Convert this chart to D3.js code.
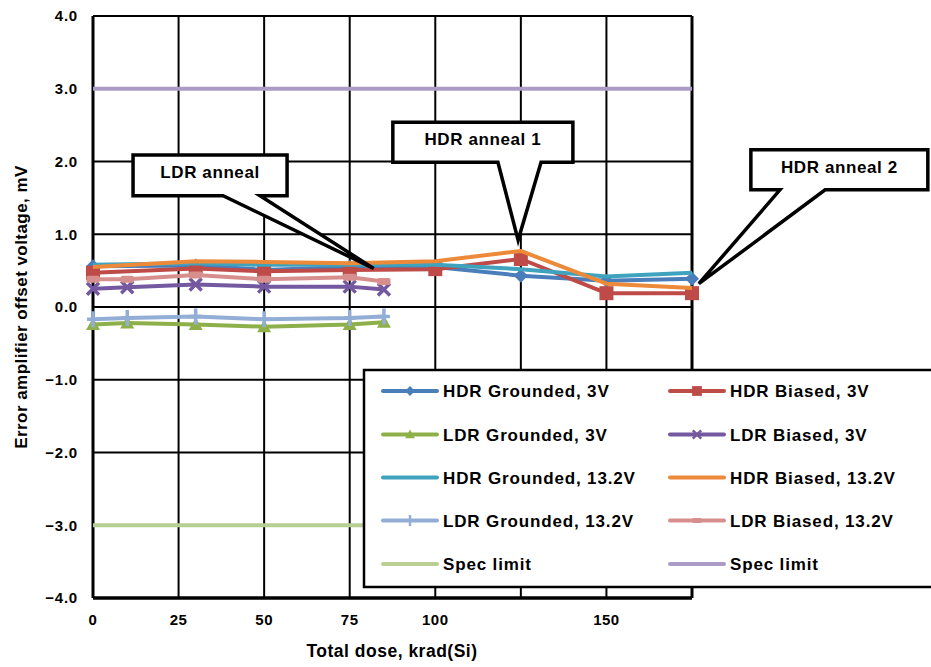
<!DOCTYPE html>
<html>
<head>
<meta charset="utf-8">
<script src="https://cdn.jsdelivr.net/npm/d3@7"></script>
<style>
  html, body { margin: 0; padding: 0; background: #fff; }
  svg text { font-family: "Liberation Sans", Arial, sans-serif; font-weight: bold; fill: #000; }
</style>
</head>
<body>
<svg id="chart" width="931" height="667"></svg>
<script>
// Dose steps (krad(Si)) for the two irradiation sequences
const ldrDose = [0, 10, 30, 50, 75, 85];
const hdrDose = [0, 30, 50, 75, 100, 125, 150, 175];

// Offset voltage readings, mV
const hdrGrounded3V   = [0.56, 0.57, 0.51, 0.55, 0.55, 0.43, 0.36, 0.39];
const hdrBiased3V     = [0.47, 0.53, 0.49, 0.51, 0.52, 0.66, 0.19, 0.19];
const ldrGrounded3V   = [-0.24, -0.22, -0.24, -0.27, -0.24, -0.21];
const ldrBiased3V     = [0.25, 0.27, 0.31, 0.28, 0.28, 0.24];
const hdrGrounded13V  = [0.58, 0.60, 0.58, 0.58, 0.58, 0.52, 0.42, 0.47];
const hdrBiased13V    = [0.55, 0.63, 0.62, 0.60, 0.63, 0.77, 0.32, 0.26];
const ldrGrounded13V  = [-0.17, -0.15, -0.13, -0.17, -0.15, -0.13];
const ldrBiased13V    = [0.38, 0.38, 0.44, 0.38, 0.41, 0.35];
const specLimitLow    = [-3.0, -3.0];
const specLimitHigh   = [3.0, 3.0];
const specDose        = [0, 175];

// Axis ticks
const xTickLabels = [0, 25, 50, 75, 100, 150];
const xGrid = [0, 25, 50, 75, 100, 125, 150, 175];
const yTicks = [-4, -3, -2, -1, 0, 1, 2, 3, 4];

// Series table: name, doses, values, colour, marker
const series = [
  { name: "HDR Grounded, 3V",    x: hdrDose,  y: hdrGrounded3V,  color: "#4A7EBB", marker: "diamond" },
  { name: "HDR Biased, 3V",      x: hdrDose,  y: hdrBiased3V,    color: "#BE4B48", marker: "square" },
  { name: "LDR Grounded, 3V",    x: ldrDose,  y: ldrGrounded3V,  color: "#8EB04A", marker: "triangle" },
  { name: "LDR Biased, 3V",      x: ldrDose,  y: ldrBiased3V,    color: "#7458A0", marker: "x" },
  { name: "HDR Grounded, 13.2V", x: hdrDose,  y: hdrGrounded13V, color: "#3FA3BE", marker: "none" },
  { name: "HDR Biased, 13.2V",   x: hdrDose,  y: hdrBiased13V,   color: "#EC8A3A", marker: "none" },
  { name: "LDR Grounded, 13.2V", x: ldrDose,  y: ldrGrounded13V, color: "#93AED6", marker: "plus" },
  { name: "LDR Biased, 13.2V",   x: ldrDose,  y: ldrBiased13V,   color: "#D68F8D", marker: "dash" },
  { name: "Spec limit",          x: specDose, y: specLimitLow,   color: "#B8CE93", marker: "none" },
  { name: "Spec limit",          x: specDose, y: specLimitHigh,  color: "#AA9CC6", marker: "none" }
];

// Callout annotations (data units)
const callouts = [
  { text: "LDR anneal",   box: [11.7, 56.7, 2.09, 1.53], base: [38.0, 48.8], tip: [82.0, 0.53] },
  { text: "HDR anneal 1", box: [87.6, 140.2, 2.54, 1.99], base: [118.3, 130.9], tip: [124.2, 0.92] },
  { text: "HDR anneal 2", box: [192.2, 243.9, 2.16, 1.61], base: [200.7, 213.9], tip: [177.0, 0.32] }
];

const svg = d3.select("#chart");
const margin = { left: 93, right: 239, top: 16, bottom: 69 };
const W = 931, H = 667;

const x = d3.scaleLinear().domain([0, 175]).range([margin.left, W - margin.right]);
const y = d3.scaleLinear().domain([-4, 4]).range([H - margin.bottom, margin.top]);

// Grid
const grid = svg.append("g");
grid.selectAll("line.v").data(xGrid).join("line")
  .attr("x1", d => x(d)).attr("x2", d => x(d))
  .attr("y1", y(-4)).attr("y2", y(4))
  .attr("stroke", "#000").attr("stroke-width", d => (d === 0 || d === 175) ? 3 : 2);
grid.selectAll("line.h").data(yTicks).join("line")
  .attr("x1", x(0)).attr("x2", x(175))
  .attr("y1", d => y(d)).attr("y2", d => y(d))
  .attr("stroke", "#000").attr("stroke-width", d => d === -4 ? 3.5 : 2);

// Y axis labels
svg.append("g").selectAll("text").data(yTicks).join("text")
  .attr("x", 78).attr("y", d => y(d)).attr("dy", "0.36em")
  .attr("text-anchor", "end").attr("font-size", 15).attr("letter-spacing", 0.8)
  .text(d => d3.format(".1f")(d));

// X axis labels
svg.append("g").selectAll("text").data(xTickLabels).join("text")
  .attr("x", d => x(d)).attr("y", 620).attr("dy", "0.36em")
  .attr("text-anchor", "middle").attr("font-size", 15).attr("letter-spacing", 0.5)
  .text(d => d);

// Axis titles
svg.append("text").attr("x", 392).attr("y", 651).attr("dy", "0.36em")
  .attr("text-anchor", "middle").attr("font-size", 17.5).attr("letter-spacing", 0.5)
  .text("Total dose, krad(Si)");
svg.append("text")
  .attr("transform", `translate(21,${y(0)})rotate(-90)`)
  .attr("dy", "0.36em").attr("text-anchor", "middle").attr("font-size", 17).attr("letter-spacing", 0.45)
  .text("Error amplifier offset voltage, mV");

// Marker drawing
function drawMarker(g, type, color) {
  switch (type) {
    case "diamond":
      g.append("path").attr("d", "M0,-7L7,0L0,7L-7,0Z").attr("fill", color); break;
    case "square":
      g.append("rect").attr("x", -7).attr("y", -7).attr("width", 14).attr("height", 14).attr("fill", color); break;
    case "triangle":
      g.append("path").attr("d", "M0,-7L7,5.5L-7,5.5Z").attr("fill", color); break;
    case "x":
      g.append("path").attr("d", "M-6,-6L6,6M-6,6L6,-6").attr("stroke", color).attr("stroke-width", 3.5).attr("fill", "none"); break;
    case "plus":
      g.append("path").attr("d", "M0,-8L0,8M-6,0L6,0").attr("stroke", color).attr("stroke-width", 3.5).attr("fill", "none"); break;
    case "dash":
      g.append("rect").attr("x", -6.5).attr("y", -3.5).attr("width", 13).attr("height", 7).attr("rx", 1.5).attr("fill", color); break;
  }
}

const line = d3.line().x(d => x(d[0])).y(d => y(d[1]));
const plot = svg.append("g");
series.forEach(s => {
  const pts = s.x.map((d, i) => [d, s.y[i]]);
  const g = plot.append("g");
  g.append("path").attr("d", line(pts)).attr("fill", "none")
    .attr("stroke", s.color).attr("stroke-width", 4).attr("stroke-linejoin", "round");
  if (s.marker !== "none") {
    pts.forEach(p => drawMarker(g.append("g").attr("transform", `translate(${x(p[0])},${y(p[1])})`), s.marker, s.color));
  }
});

// Callouts
callouts.forEach(c => {
  const [x0, x1, yTop, yBot] = c.box;
  const L = x(x0), R = x(x1), T = y(yTop), B = y(yBot);
  const b0 = x(c.base[0]), b1 = x(c.base[1]);
  const tx = x(c.tip[0]), ty = y(c.tip[1]);
  const d = `M${L},${T}L${R},${T}L${R},${B}L${b1},${B}L${tx},${ty}L${b0},${B}L${L},${B}Z`;
  svg.append("path").attr("d", d).attr("fill", "#fff").attr("stroke", "#000")
    .attr("stroke-width", 3.5).attr("stroke-linejoin", "miter").attr("stroke-miterlimit", 4);
  svg.append("text").attr("x", (L + R) / 2).attr("y", (T + B) / 2 - 3).attr("dy", "0.36em")
    .attr("text-anchor", "middle").attr("font-size", 17).attr("letter-spacing", 0.6)
    .text(c.text);
});

// Legend
const legend = svg.append("g");
legend.append("rect").attr("x", 364).attr("y", 370).attr("width", 600).attr("height", 217)
  .attr("fill", "#fff").attr("stroke", "#000").attr("stroke-width", 2.5);
const rowY = [391, 434.5, 477.5, 520.5, 564];
series.forEach((s, i) => {
  const col = i % 2, row = Math.floor(i / 2);
  const lx = col === 0 ? 383 : 670;
  const g = legend.append("g").attr("transform", `translate(${lx},${rowY[row]})`);
  g.append("line").attr("x1", 0).attr("x2", 54).attr("y1", 0).attr("y2", 0)
    .attr("stroke", s.color).attr("stroke-width", 4).attr("stroke-linecap", "round");
  if (s.marker !== "none") {
    const mg = g.append("g").attr("transform", "translate(27,0) scale(0.7)");
    drawMarker(mg, s.marker, s.color);
  }
  g.append("text").attr("x", 60).attr("y", 0).attr("dy", "0.36em")
    .attr("font-size", 17).attr("letter-spacing", 0.85).text(s.name);
});
</script>
</body>
</html>
